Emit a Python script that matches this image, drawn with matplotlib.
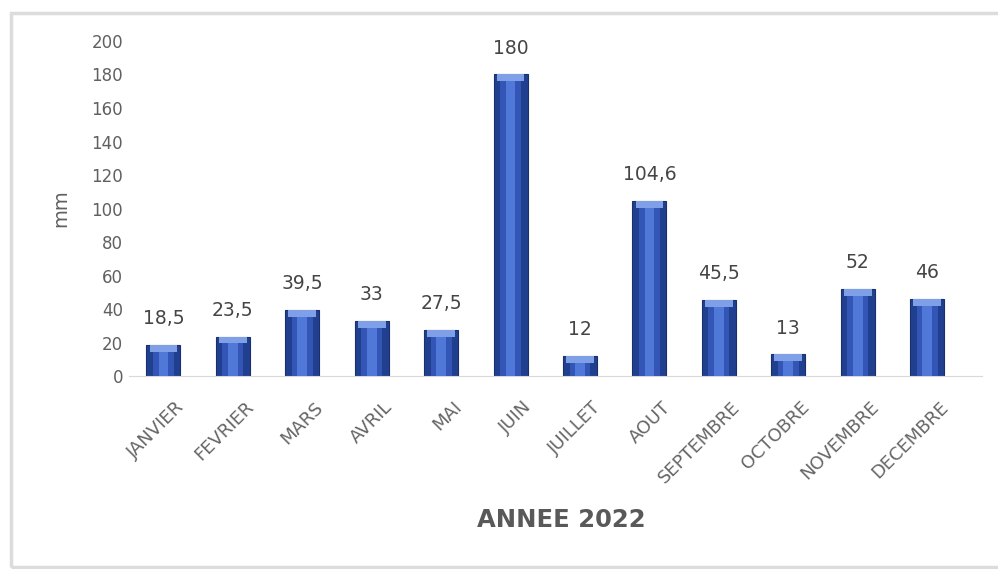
import matplotlib.pyplot as plt
import matplotlib.transforms as mtransforms
from matplotlib.patches import Rectangle

months = ['JANVIER', 'FEVRIER', 'MARS', 'AVRIL', 'MAI', 'JUIN', 'JUILLET',
          'AOUT', 'SEPTEMBRE', 'OCTOBRE', 'NOVEMBRE', 'DECEMBRE']
rain_mm = [18.5, 23.5, 39.5, 33, 27.5, 180, 12, 104.6, 45.5, 13, 52, 46]
yticks = list(range(0, 201, 20))

plt.rcParams['font.family'] = ['DejaVu Sans']

fig = plt.figure(figsize=(9.98, 5.69), dpi=100, facecolor='white')
# light frame like the Excel chart area
fig.patches.append(Rectangle((11 / 998, 2 / 569), 1.2, 554 / 569, transform=fig.transFigure,
                             fill=False, edgecolor='#dcdcdc', linewidth=2.5, zorder=0))

ax = fig.add_axes([0.129, 0.339, 0.855, 0.589])
x = list(range(len(months)))

# cylinder-ish look: dark body, lighter centre stripe, light cap
ax.bar(x, rain_mm, width=0.49, color='#213f8f', edgecolor='#1a2f6b', linewidth=0.8, zorder=2)
ax.bar(x, rain_mm, width=0.30, color='#3355b5', zorder=3)
ax.bar(x, rain_mm, width=0.14, color='#4f78d8', zorder=4)
caps = [4.0] * len(rain_mm)
ax.bar(x, caps, bottom=[v - 4.0 for v in rain_mm], width=0.40, color='#7f9fe6', zorder=5)

for xi, v in zip(x, rain_mm):
    label = f'{v:g}'.replace('.', ',')
    ax.annotate(label, (xi, v), xytext=(0, 12), textcoords='offset points',
                ha='center', va='bottom', fontsize=13.5, color='#454545')

ax.set_ylim(0, 200)
ax.set_xlim(-0.5, 11.79)
ax.set_yticks(yticks)
ax.set_xticks(x)
ax.tick_params(axis='y', labelsize=12, colors='#606060', length=0, pad=4)
ax.tick_params(axis='x', length=0, pad=0)
ax.set_xticklabels(months, rotation=45, ha='right', rotation_mode='anchor',
                   fontsize=13, color='#666666')
# push the rotated labels down/right like in the excel export
offset = mtransforms.ScaledTranslation(12 / 100, -22 / 100, fig.dpi_scale_trans)
for lab in ax.get_xticklabels():
    lab.set_transform(lab.get_transform() + offset)

for s in ['top', 'right', 'left']:
    ax.spines[s].set_visible(False)
ax.spines['bottom'].set_color('#d9d9d9')

ax.set_ylabel('mm', fontsize=14, color='#606060', labelpad=15)
fig.text(0.562, 0.086, 'ANNEE 2022', ha='center', va='center', fontsize=17.5,
         fontweight='bold', color='#595959')

fig.savefig('out.png', dpi=100, facecolor='white')
